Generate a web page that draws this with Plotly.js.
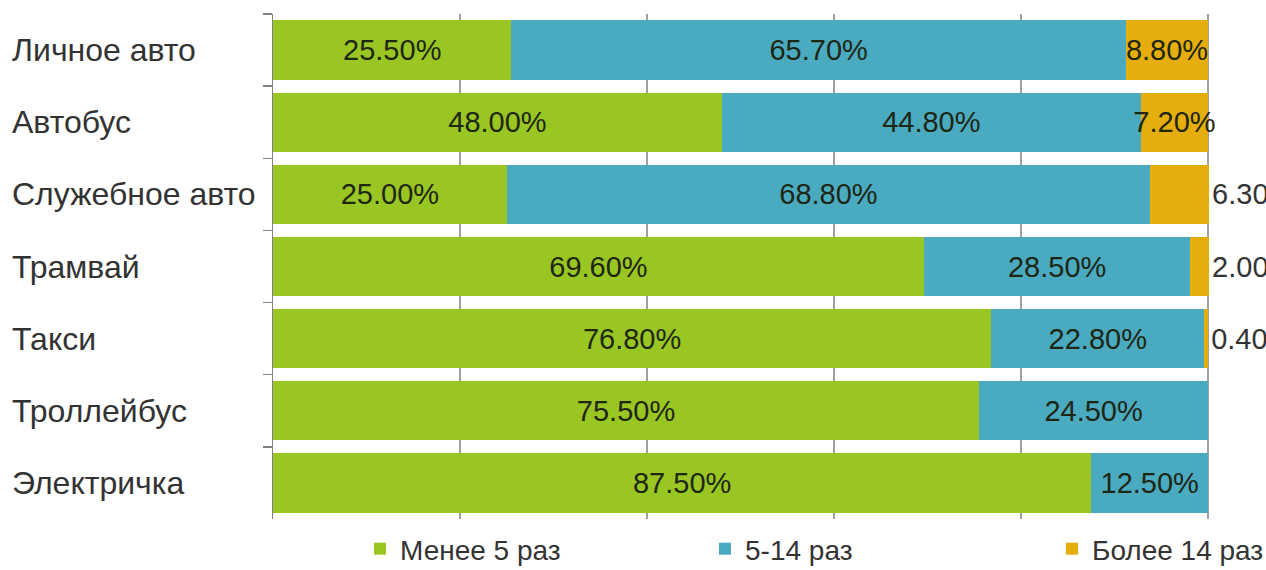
<!DOCTYPE html>
<html><head><meta charset="utf-8">
<script src="https://cdn.plot.ly/plotly-3.0.1.min.js"></script>
<style>html,body{margin:0;padding:0;background:#fff}#chart{width:1266px;height:570px}</style>
</head><body><div id="chart"></div>
<script>
const categories = ['Личное авто','Автобус','Служебное авто','Трамвай','Такси','Троллейбус','Электричка'];
const less5 = [25.5,48.0,25.0,69.6,76.8,75.5,87.5];
const from5to14 = [65.7,44.8,68.8,28.5,22.8,24.5,12.5];
const more14 = [8.8,7.2,6.3,2.0,0.4,0,0];
const seriesNames = ['Менее 5 раз','5-14 раз','Более 14 раз'];
const colors = ['#9AC623','#4AABC0','#E6AE0C'];

const fmt = v => v ? v.toFixed(2) + '%' : '';
const fontFam = '"Liberation Sans", Arial, sans-serif';
const legendIds = ['legend','legend2','legend3'];
const legendX = [360, 705, 1052];

function mk(vals, i, pos) {
  return {
    type: 'bar', orientation: 'h',
    y: categories, x: vals,
    name: seriesNames[i],
    legend: legendIds[i],
    marker: {color: colors[i]},
    text: vals.map(fmt),
    textposition: pos,
    insidetextanchor: 'middle',
    textangle: 0,
    constraintext: 'none',
    cliponaxis: false,
    textfont: {family: fontFam, size: 29, color: '#1e2614'},
    insidetextfont: {family: fontFam, size: 29, color: '#1e2614'},
    outsidetextfont: {family: fontFam, size: 29, color: '#333'},
    hoverinfo: 'skip'
  };
}

const data = [
  mk(less5, 0, 'inside'),
  mk(from5to14, 1, 'inside'),
  mk(more14, 2, more14.map(v => v >= 7 ? 'inside' : 'outside'))
];

const annotations = categories.map(c => ({
  xref: 'paper', yref: 'y', x: -0.2802, y: c, xanchor: 'left', yanchor: 'middle',
  text: c, showarrow: false, font: {family: fontFam, size: 32, color: '#333'}
}));

const layout = {
  width: 1266, height: 570,
  paper_bgcolor: '#fff', plot_bgcolor: '#fff',
  margin: {l: 273, r: 56, t: 14, b: 51},
  barmode: 'stack', bargap: 0.18,
  showlegend: true,
  xaxis: {range: [0, 100.2], tickvals: [0,20,40,60,80,100], showgrid: true, gridcolor: '#a0a0a0', gridwidth: 1.5,
    showticklabels: false, zeroline: false, showline: false, ticks: '', fixedrange: true},
  yaxis: {type: 'category', autorange: 'reversed', showticklabels: false, ticks: 'outside',
    tickson: 'boundaries', ticklen: 9, tickcolor: '#808080', tickwidth: 1.5,
    showline: true, linecolor: '#808080', linewidth: 1.5, showgrid: false, fixedrange: true},
  annotations: annotations
};
legendIds.forEach((id, i) => {
  layout[id] = {orientation: 'h', xref: 'container', yref: 'container',
    x: legendX[i] / 1266, xanchor: 'left', y: 1 - 549/570, yanchor: 'middle',
    bgcolor: 'rgba(0,0,0,0)', font: {family: fontFam, size: 28, color: '#333'}};
});

Plotly.newPlot('chart', data, layout, {displayModeBar: false, staticPlot: true});
</script></body></html>
